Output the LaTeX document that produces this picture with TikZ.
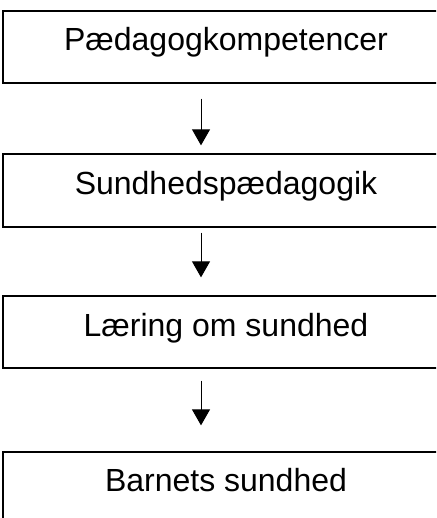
\documentclass[tikz,border=0pt]{standalone}
\usepackage{fontspec}
\setmainfont{Liberation Sans}
\usetikzlibrary{arrows.meta}
\begin{document}
\begin{tikzpicture}[x=1pt,y=-1pt,
  box/.style={draw=black,line width=1.3pt,minimum width=446pt,inner sep=0pt,font=\fontsize{32}{36}\selectfont},
  lbl/.style={inner sep=0pt,font=\fontsize{32}{36}\selectfont},
  arr/.style={line width=1pt,-{Triangle[length=16pt,width=18pt]}}]
\useasboundingbox (0,0) rectangle (436,518);
\clip (0,0) rectangle (436,518);
\node[box,minimum height=72pt] (b1) at (226,47) {};
\node[box,minimum height=73pt] (b2) at (226,190.5) {};
\node[box,minimum height=72pt] (b3) at (226,332) {};
\node[box,minimum height=72pt] (b4) at (226,488) {};
\node[lbl,anchor=base] (t1) at (226,51) {Pædagogkompetencer};
\node[lbl,anchor=base] (t2) at (226,195) {Sundhedspædagogik};
\node[lbl,anchor=base] (t3) at (226,336) {Læring om sundhed};
\node[lbl,anchor=base] (t4) at (226,491) {Barnets sundhed};
\draw[arr,shorten <=15pt,shorten >=8pt] ([xshift=-25pt]b1.south) -- ([xshift=-25pt]b2.north);
\draw[arr,shorten <=5pt,shorten >=18pt] ([xshift=-25pt]b2.south) -- ([xshift=-25pt]b3.north);
\draw[arr,shorten <=12pt,shorten >=26pt] ([xshift=-25pt]b3.south) -- ([xshift=-25pt]b4.north);
\end{tikzpicture}
\end{document}
